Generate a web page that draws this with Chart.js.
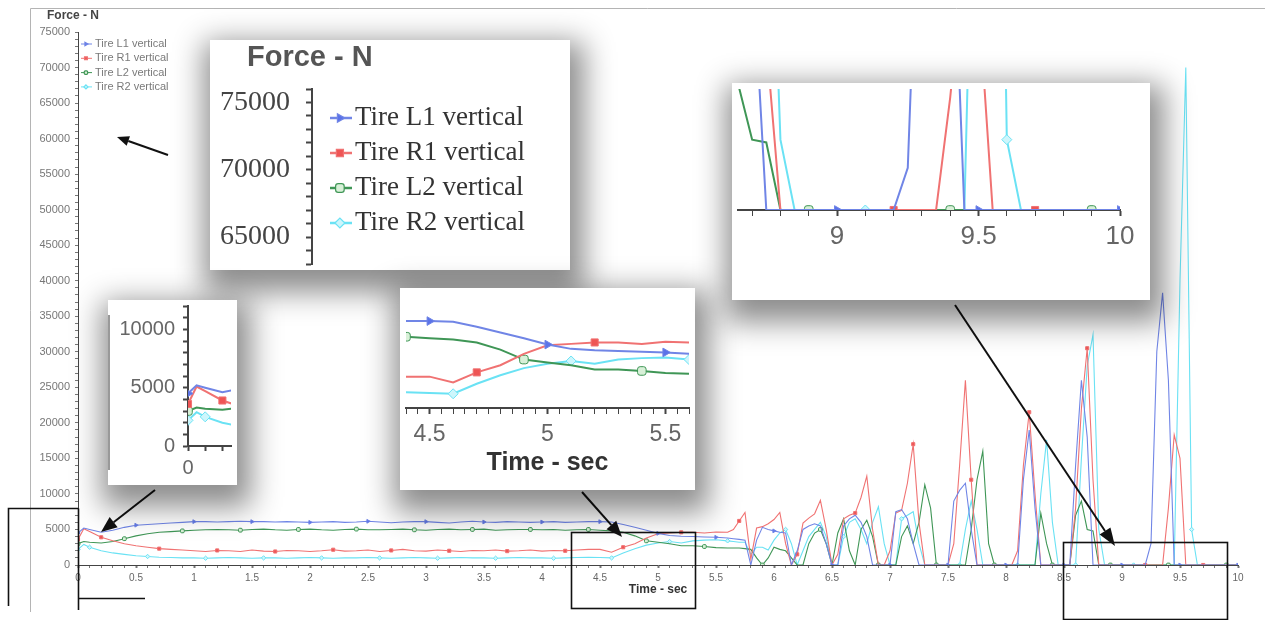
<!DOCTYPE html>
<html>
<head>
<meta charset="utf-8">
<title>Tire vertical force</title>
<script src="https://cdn.jsdelivr.net/npm/chart.js@4.4.1/dist/chart.umd.min.js"></script>
<style>
  html, body { margin: 0; padding: 0; background: #fff; }
  #page { position: relative; width: 1265px; height: 620px; overflow: hidden; }
  #page canvas { display: block; }
  #mainChart { position: absolute; left: 0; top: 0; }
  .inset { position: absolute; background: #fff; box-shadow: 4px 12px 28px 10px rgba(0,0,0,0.45); }
  .edge { position: absolute; left: 0; top: 15px; width: 2px; height: 155px; background: #999; }
</style>
</head>
<body>
<div id="page">
  <canvas id="mainChart" width="1265" height="620"></canvas>
  <div class="inset" style="left:210px;top:40px;width:360px;height:230px"><canvas id="legendZoom" width="360" height="230"></canvas></div>
  <div class="inset" style="left:108px;top:300px;width:129px;height:185px"><canvas id="startZoom" width="129" height="185"></canvas><div class="edge"></div></div>
  <div class="inset" style="left:400px;top:288px;width:295px;height:202px"><canvas id="midZoom" width="295" height="202"></canvas></div>
  <div class="inset" style="left:732px;top:83px;width:418px;height:217px"><canvas id="endZoom" width="418" height="217"></canvas></div>
</div>
<script>
// time - sec
const time = [
  0, 0.05, 0.1, 0.2, 0.3, 0.4, 0.5, 0.6, 0.7, 0.8, 0.9,
  1.0, 1.1, 1.2, 1.3, 1.4, 1.5, 1.6, 1.7, 1.8, 1.9,
  2.0, 2.1, 2.2, 2.3, 2.4, 2.5, 2.6, 2.7, 2.8, 2.9,
  3.0, 3.1, 3.2, 3.3, 3.4, 3.5, 3.6, 3.7, 3.8, 3.9,
  4.0, 4.1, 4.2, 4.3, 4.4, 4.5, 4.6, 4.7, 4.8, 4.9,
  5.0, 5.1, 5.2, 5.3, 5.4, 5.5, 5.6,
  5.65, 5.7, 5.75, 5.8, 5.85, 5.9, 5.95, 6.0, 6.05, 6.1,
  6.15, 6.2, 6.25, 6.3, 6.35, 6.4, 6.45, 6.5, 6.55, 6.6,
  6.65, 6.7, 6.75, 6.8, 6.85, 6.9, 6.95, 7.0, 7.05, 7.1,
  7.15, 7.2, 7.25, 7.3, 7.35, 7.4, 7.45, 7.5, 7.55, 7.6,
  7.65, 7.7, 7.75, 7.8, 7.85, 7.9, 7.95, 8.0, 8.05, 8.1,
  8.15, 8.2, 8.25, 8.3, 8.35, 8.4, 8.45, 8.5, 8.55, 8.6,
  8.65, 8.7, 8.75, 8.8, 8.85, 8.9, 8.95, 9.0, 9.05, 9.1,
  9.15, 9.2, 9.25, 9.3, 9.35, 9.4, 9.45, 9.5, 9.55, 9.6,
  9.65, 9.7, 9.75, 9.8, 9.85, 9.9, 9.95, 10.0
];

// force - N, same rows as time
const tireL1 = [
  4500, 5200, 5000, 4600, 4900, 5300, 5600, 5700, 5800, 5900, 6000,
  6100, 6100, 6050, 6100, 6150, 6100, 6100, 6050, 6100, 6050,
  6000, 6050, 6100, 6000, 6050, 6150, 6050, 5950, 6050, 6100,
  6100, 6000, 5900, 6050, 6150, 6050, 6000, 6100, 6050, 6000,
  6050, 6100, 6000, 6050, 6100, 6100, 6050, 5700, 5300, 4900,
  4450, 4150, 4050, 4000, 3950, 3900, 3800,
  3700, 3600, 3500, 0, 3500, 5300, 5000, 4800, 4600, 4500,
  0, 2000, 5000, 5500, 5800, 5500, 3000, 0, 0, 5500,
  6500, 7000, 6000, 4000, 0, 0, 0, 0, 7500, 7800,
  6500, 3000, 0, 0, 0, 0, 0, 0, 9000, 10500,
  11500, 5000, 0, 0, 0, 0, 0, 0, 0, 0,
  12000, 19000, 8000, 0, 0, 0, 0, 0, 0, 14000,
  26000, 18000, 0, 0, 0, 0, 0, 0, 0, 0,
  0, 0, 3000, 30000, 38300, 26000, 0, 0, 0, 0,
  0, 0, 0, 0, 0, 0, 0, 0
];
const tireR1 = [
  3600, 5100, 4700, 3900, 3400, 3000, 2700, 2500, 2300, 2200, 2100,
  2000, 1900, 2050, 2000, 1900, 2100, 1950, 1900, 2050, 2000,
  1900, 2000, 2150, 1950, 2000, 2100, 1900, 2050, 2200, 2000,
  1950, 2100, 2000, 1900, 2050, 2000, 2100, 1950, 2000, 2100,
  1950, 2050, 2000, 2100, 2200, 2200, 1800, 2500, 3000, 3800,
  4400, 4500, 4600, 4600, 4500, 4650, 4600,
  5000, 6200, 7400, 800, 5200, 5400, 5800, 6400, 7400, 3000,
  0, 1500, 5900, 6600, 7200, 9100, 5000, 0, 1500, 6500,
  7000, 7300, 9500, 12500, 5000, 0, 0, 2000, 7300, 7700,
  11500, 17000, 6000, 0, 0, 0, 0, 0, 3000, 14000,
  26000, 12000, 0, 0, 0, 0, 0, 0, 0, 2000,
  14000, 21500, 10000, 0, 0, 0, 0, 0, 0, 8000,
  22000, 30500, 12000, 0, 0, 0, 0, 0, 0, 0,
  0, 0, 0, 0, 0, 8000, 18300, 15000, 0, 0,
  0, 0, 0, 0, 0, 0, 0, 0
];
const tireL2 = [
  3000, 3300, 3200, 3100, 3300, 3700, 4100, 4400, 4600, 4700, 4800,
  4900, 4950, 5000, 4950, 4900, 5000, 5050, 4950, 4900, 5000,
  5050, 4950, 4900, 5000, 5050, 4950, 4950, 5000, 5050, 4950,
  4900, 5000, 5050, 4950, 5000, 5050, 4900, 4950, 5000, 5000,
  4950, 5000, 4900, 4950, 5000, 4900, 4800, 4600, 4100, 3400,
  3200, 3000, 2700, 2700, 2600, 2450, 2400,
  2400, 2400, 2300, 2200, 1000, 0, 1000, 2500, 2200, 2000,
  1000, 0, 0, 3000, 4500, 5000, 3000, 0, 4500, 6500,
  2000, 0, 5000, 6300, 4000, 0, 0, 0, 0, 4000,
  5500, 3000, 6000, 11300, 8000, 0, 0, 0, 0, 0,
  0, 5000, 12000, 16000, 3000, 0, 0, 0, 0, 0,
  0, 0, 0, 7300, 3000, 0, 0, 0, 0, 7000,
  9000, 5000, 4800, 0, 0, 0, 0, 0, 0, 0,
  0, 0, 0, 0, 0, 0, 0, 0, 0, 0,
  0, 0, 0, 0, 0, 0, 0, 0
];
const tireR2 = [
  2200, 2900, 2500, 2000, 1700, 1500, 1300, 1200, 1100, 1050, 1000,
  1000, 950, 1000, 1050, 1000, 950, 1000, 1000, 950, 1000,
  1050, 1000, 950, 1000, 1000, 1050, 1000, 950, 1000, 1050,
  1000, 950, 1000, 1050, 1000, 1000, 950, 1000, 1050, 1000,
  1000, 950, 1000, 1050, 1100, 1050, 1000, 1700, 2300, 2800,
  3100, 3300, 3100, 3400, 3500, 3550, 3400,
  3300, 3200, 3200, 1500, 2500, 2500, 2100, 3500, 4500, 5000,
  3000, 0, 2000, 4000, 5000, 6000, 4000, 0, 0, 4000,
  6000, 6500, 5000, 3000, 6000, 8200, 3000, 0, 0, 6500,
  7000, 7500, 3000, 0, 0, 0, 0, 0, 0, 0,
  5000, 9000, 5000, 0, 0, 0, 0, 0, 0, 0,
  0, 0, 0, 10000, 17600, 6000, 0, 0, 0, 0,
  15000, 28000, 32400, 5000, 0, 0, 0, 0, 0, 0,
  0, 0, 0, 0, 0, 0, 0, 40000, 70000, 5000,
  0, 0, 0, 0, 0, 0, 0, 0
];
const seriesLabels = ['Tire L1 vertical', 'Tire R1 vertical', 'Tire L2 vertical', 'Tire R2 vertical'];

const seriesStyle = [
  { color: '#7085e6', fill: '#5b73e8', point: 'triangle', rot: 90, phase: 0 },
  { color: '#f07272', fill: '#ee5555', point: 'rect', rot: 0, phase: 2 },
  { color: '#3f9656', fill: '#d8f0d8', point: 'rectRounded', rot: 0, phase: 4 },
  { color: '#6ae2f4', fill: '#cdf6fc', point: 'rectRot', rot: 0, phase: 1 }
];
const SANS = '"Liberation Sans", Arial, sans-serif';
const SERIF = '"Liberation Serif", "Times New Roman", serif';

function isMultiple(v, step) {
  const k = v / step;
  return Math.abs(k - Math.round(k)) < 1e-6;
}

// a marker every half second, each series shifted a bit
function hasMarker(t, phase) {
  if (t === undefined) return false;
  if (t === 0) return true;
  if (!isMultiple(t, 0.1)) return false;
  return ((Math.round(t * 10) - phase) % 5 + 5) % 5 === 0;
}

function buildDatasets(lineWidth, markerRadius) {
  return [tireL1, tireR1, tireL2, tireR2].map((vals, i) => {
    const s = seriesStyle[i];
    return {
      label: seriesLabels[i],
      data: time.map((t, j) => ({ x: t, y: vals[j] })),
      borderColor: s.color,
      backgroundColor: s.fill,
      borderWidth: lineWidth,
      pointStyle: s.point,
      pointRotation: s.rot,
      pointBorderColor: s.color,
      pointBackgroundColor: s.fill,
      pointBorderWidth: 1,
      pointRadius: ctx => (hasMarker(time[ctx.dataIndex], s.phase) ? markerRadius : 0),
      pointHoverRadius: 0,
      tension: 0,
      fill: false
    };
  });
}

const halfLabel = v => (isMultiple(v, 0.5) ? String(Math.round(v * 2) / 2) : '');
const forceLabel = v => (Math.round(v) % 5000 === 0 ? String(Math.round(v)) : '');
const majorTick = ctx => (ctx.tick && isMultiple(ctx.tick.value, 0.5) ? 2 : 1);
const tenthColor = ctx => (ctx.tick && isMultiple(ctx.tick.value, 0.1) ? '#444' : 'rgba(0,0,0,0)');

const cornerLegend = {
  id: 'cornerLegend',
  afterDraw(chart, args, o) {
    if (!o || !o.show) return;
    const c = chart.ctx;
    c.save();
    c.font = o.font;
    c.textBaseline = 'middle';
    chart.data.datasets.forEach((ds, i) => {
      const y = o.y + i * o.gap;
      c.strokeStyle = ds.borderColor;
      c.lineWidth = o.lineWidth;
      c.beginPath();
      c.moveTo(o.x, y);
      c.lineTo(o.x + o.lineLen, y);
      c.stroke();
      c.fillStyle = ds.pointBackgroundColor;
      c.strokeStyle = ds.pointBorderColor;
      c.lineWidth = 1.2;
      Chart.helpers.drawPoint(c, { pointStyle: ds.pointStyle, radius: o.radius, rotation: ds.pointRotation, borderWidth: 1.2 }, o.x + o.lineLen * 0.45, y);
      c.fillStyle = o.color;
      c.fillText(ds.label, o.x + o.lineLen + o.textGap, y);
    });
    c.restore();
  }
};

const cornerTitle = {
  id: 'cornerTitle',
  afterDraw(chart, args, o) {
    if (!o || !o.text) return;
    const c = chart.ctx;
    c.save();
    c.font = o.font;
    c.fillStyle = o.color;
    c.textBaseline = 'middle';
    c.fillText(o.text, o.x, o.y);
    c.restore();
  }
};

function drawArrow(c, x1, y1, x2, y2, len, w) {
  const ang = Math.atan2(y2 - y1, x2 - x1);
  const bx = x2 - len * Math.cos(ang), by = y2 - len * Math.sin(ang);
  c.beginPath();
  c.moveTo(x1, y1);
  c.lineTo(bx, by);
  c.stroke();
  c.beginPath();
  c.moveTo(x2, y2);
  c.lineTo(bx + (w / 2) * Math.sin(ang), by - (w / 2) * Math.cos(ang));
  c.lineTo(bx - (w / 2) * Math.sin(ang), by + (w / 2) * Math.cos(ang));
  c.closePath();
  c.fill();
}

// frame, zoom boxes and arrows of the main picture
const mainDecor = {
  id: 'mainDecor',
  beforeDraw(chart) {
    const c = chart.ctx;
    c.save();
    c.strokeStyle = '#b4b4b4';
    c.lineWidth = 1;
    c.beginPath();
    c.moveTo(30.5, 612);
    c.lineTo(30.5, 8.5);
    c.lineTo(1265, 8.5);
    c.stroke();
    c.restore();
  },
  afterDraw(chart) {
    const c = chart.ctx;
    c.save();
    c.strokeStyle = '#111';
    c.fillStyle = '#111';
    c.lineWidth = 1.6;
    c.beginPath();
    c.moveTo(8.5, 606); c.lineTo(8.5, 508.5); c.lineTo(78.5, 508.5);
    c.moveTo(78.5, 508.5); c.lineTo(78.5, 610);
    c.moveTo(78.5, 598.5); c.lineTo(145, 598.5);
    c.stroke();
    c.strokeRect(571.5, 532.5, 124, 76);
    c.strokeRect(1063.5, 542.5, 164, 77);
    c.lineWidth = 2;
    drawArrow(c, 168, 155, 117, 137, 12, 10);
    drawArrow(c, 155, 490, 101, 532, 16, 13);
    drawArrow(c, 582, 492, 622, 537, 16, 13);
    drawArrow(c, 955, 305, 1115, 546, 18, 13);
    c.restore();
  }
};

const baseOptions = {
  responsive: false,
  animation: false,
  devicePixelRatio: 1,
  events: []
};

// main chart
new Chart(document.getElementById('mainChart'), {
  type: 'line',
  data: { datasets: buildDatasets(1.1, 2.2) },
  options: {
    ...baseOptions,
    layout: { padding: { left: 0, top: 32, right: 27, bottom: 0 } },
    plugins: {
      legend: { display: false },
      tooltip: { enabled: false },
      cornerLegend: { show: true, x: 81, y: 44, gap: 14.3, lineLen: 11, textGap: 3, lineWidth: 1, radius: 2, font: '11px ' + SANS, color: '#7a7a7a' },
      cornerTitle: { text: 'Force - N', x: 47, y: 16, font: 'bold 12px ' + SANS, color: '#444' }
    },
    scales: {
      x: {
        type: 'linear', min: 0, max: 10,
        ticks: { stepSize: 0.1, autoSkip: false, maxRotation: 0, includeBounds: false, callback: halfLabel, font: { size: 10, family: SANS }, color: '#666', padding: 4 },
        grid: { drawOnChartArea: false, tickLength: 3, color: '#777', tickWidth: majorTick },
        border: { color: '#444' },
        title: { display: true, text: 'Time - sec', font: { size: 12, weight: 'bold', family: SANS }, color: '#333', padding: { top: 2, bottom: 23 } },
        afterFit: s => { s.height = 55; s.paddingLeft = 0; s.paddingRight = 0; }
      },
      y: {
        min: 0, max: 75000,
        ticks: { stepSize: 1000, autoSkip: false, callback: forceLabel, font: { size: 11, family: SANS }, color: '#777', padding: 5 },
        grid: { drawOnChartArea: false, tickLength: 3, color: '#777' },
        border: { color: '#444' },
        afterFit: s => { s.width = 78; s.paddingTop = 0; s.paddingBottom = 0; }
      }
    }
  },
  plugins: [cornerLegend, cornerTitle, mainDecor]
});

// zoom on the legend
new Chart(document.getElementById('legendZoom'), {
  type: 'line',
  data: { datasets: buildDatasets(2, 5) },
  options: {
    ...baseOptions,
    layout: { padding: { left: 0, top: 49, right: 0, bottom: 0 } },
    plugins: {
      legend: { display: false },
      tooltip: { enabled: false },
      cornerLegend: { show: true, x: 120, y: 78, gap: 35, lineLen: 22, textGap: 3, lineWidth: 2.5, radius: 5, font: '27px ' + SERIF, color: '#333' },
      cornerTitle: { text: 'Force - N', x: 37, y: 18, font: 'bold 29px ' + SANS, color: '#555' }
    },
    scales: {
      x: { type: 'linear', min: 0, max: 1, display: false },
      y: {
        min: 63000, max: 76000,
        ticks: { stepSize: 1000, autoSkip: false, callback: forceLabel, font: { size: 28, family: SERIF }, color: '#444', padding: 16 },
        grid: { drawOnChartArea: false, tickLength: 6, color: '#444', tickWidth: 2 },
        border: { color: '#444', width: 2 },
        afterFit: s => { s.width = 102; s.paddingTop = 0; s.paddingBottom = 0; }
      }
    }
  },
  plugins: [cornerLegend, cornerTitle]
});

// zoom on the start
new Chart(document.getElementById('startZoom'), {
  type: 'line',
  data: { datasets: buildDatasets(2, 5) },
  options: {
    ...baseOptions,
    layout: { padding: 0 },
    plugins: { legend: { display: false }, tooltip: { enabled: false } },
    scales: {
      x: {
        type: 'linear', min: 0, max: 0.25,
        ticks: { stepSize: 0.05, autoSkip: false, maxRotation: 0, callback: v => (Math.abs(v) < 1e-9 ? '0' : ''), font: { size: 20, family: SANS }, color: '#666', padding: 5 },
        grid: { drawOnChartArea: false, tickLength: 5, tickColor: tenthColor, tickWidth: 2 },
        border: { color: '#444', width: 2 },
        afterFit: s => { s.height = 39; s.paddingLeft = 0; s.paddingRight = 0; }
      },
      y: {
        min: 0, max: 12000,
        ticks: { stepSize: 1000, autoSkip: false, callback: forceLabel, font: { size: 20, family: SANS }, color: '#666', padding: 8 },
        grid: { drawOnChartArea: false, tickLength: 5, color: '#444', tickWidth: 2 },
        border: { color: '#444', width: 2 },
        afterFit: s => { s.width = 80; s.paddingTop = 0; s.paddingBottom = 0; }
      }
    }
  }
});

// zoom on the crossing near 5 s
new Chart(document.getElementById('midZoom'), {
  type: 'line',
  data: { datasets: buildDatasets(2, 5) },
  options: {
    ...baseOptions,
    layout: { padding: 0 },
    plugins: { legend: { display: false }, tooltip: { enabled: false } },
    scales: {
      x: {
        type: 'linear', min: 4.4, max: 5.6,
        ticks: { stepSize: 0.05, autoSkip: false, maxRotation: 0, callback: halfLabel, font: { size: 23, family: SANS }, color: '#666', padding: 7 },
        grid: { drawOnChartArea: false, tickLength: 6, color: '#444', tickWidth: majorTick },
        border: { color: '#444', width: 2 },
        title: { display: true, text: 'Time - sec', font: { size: 25, weight: 'bold', family: SANS }, color: '#333', padding: { top: 0, bottom: 12 } },
        afterFit: s => { s.height = 82; s.paddingLeft = 0; s.paddingRight = 0; }
      },
      y: { min: 0, max: 8000, display: false }
    }
  }
});

// zoom on the end
new Chart(document.getElementById('endZoom'), {
  type: 'line',
  data: { datasets: buildDatasets(2, 5) },
  options: {
    ...baseOptions,
    layout: { padding: { left: 0, top: 0, right: 30, bottom: 0 } },
    plugins: { legend: { display: false }, tooltip: { enabled: false } },
    scales: {
      x: {
        type: 'linear', min: 8.65, max: 10,
        ticks: { stepSize: 0.05, autoSkip: false, maxRotation: 0, callback: halfLabel, font: { size: 26, family: SANS }, color: '#666', padding: 5 },
        grid: { drawOnChartArea: false, tickLength: 6, tickColor: tenthColor, tickWidth: majorTick },
        border: { color: '#444', width: 2 },
        afterFit: s => { s.height = 90; s.paddingLeft = 0; s.paddingRight = 0; }
      },
      y: { min: 0, max: 8600, display: false }
    }
  }
});
</script>
</body>
</html>
